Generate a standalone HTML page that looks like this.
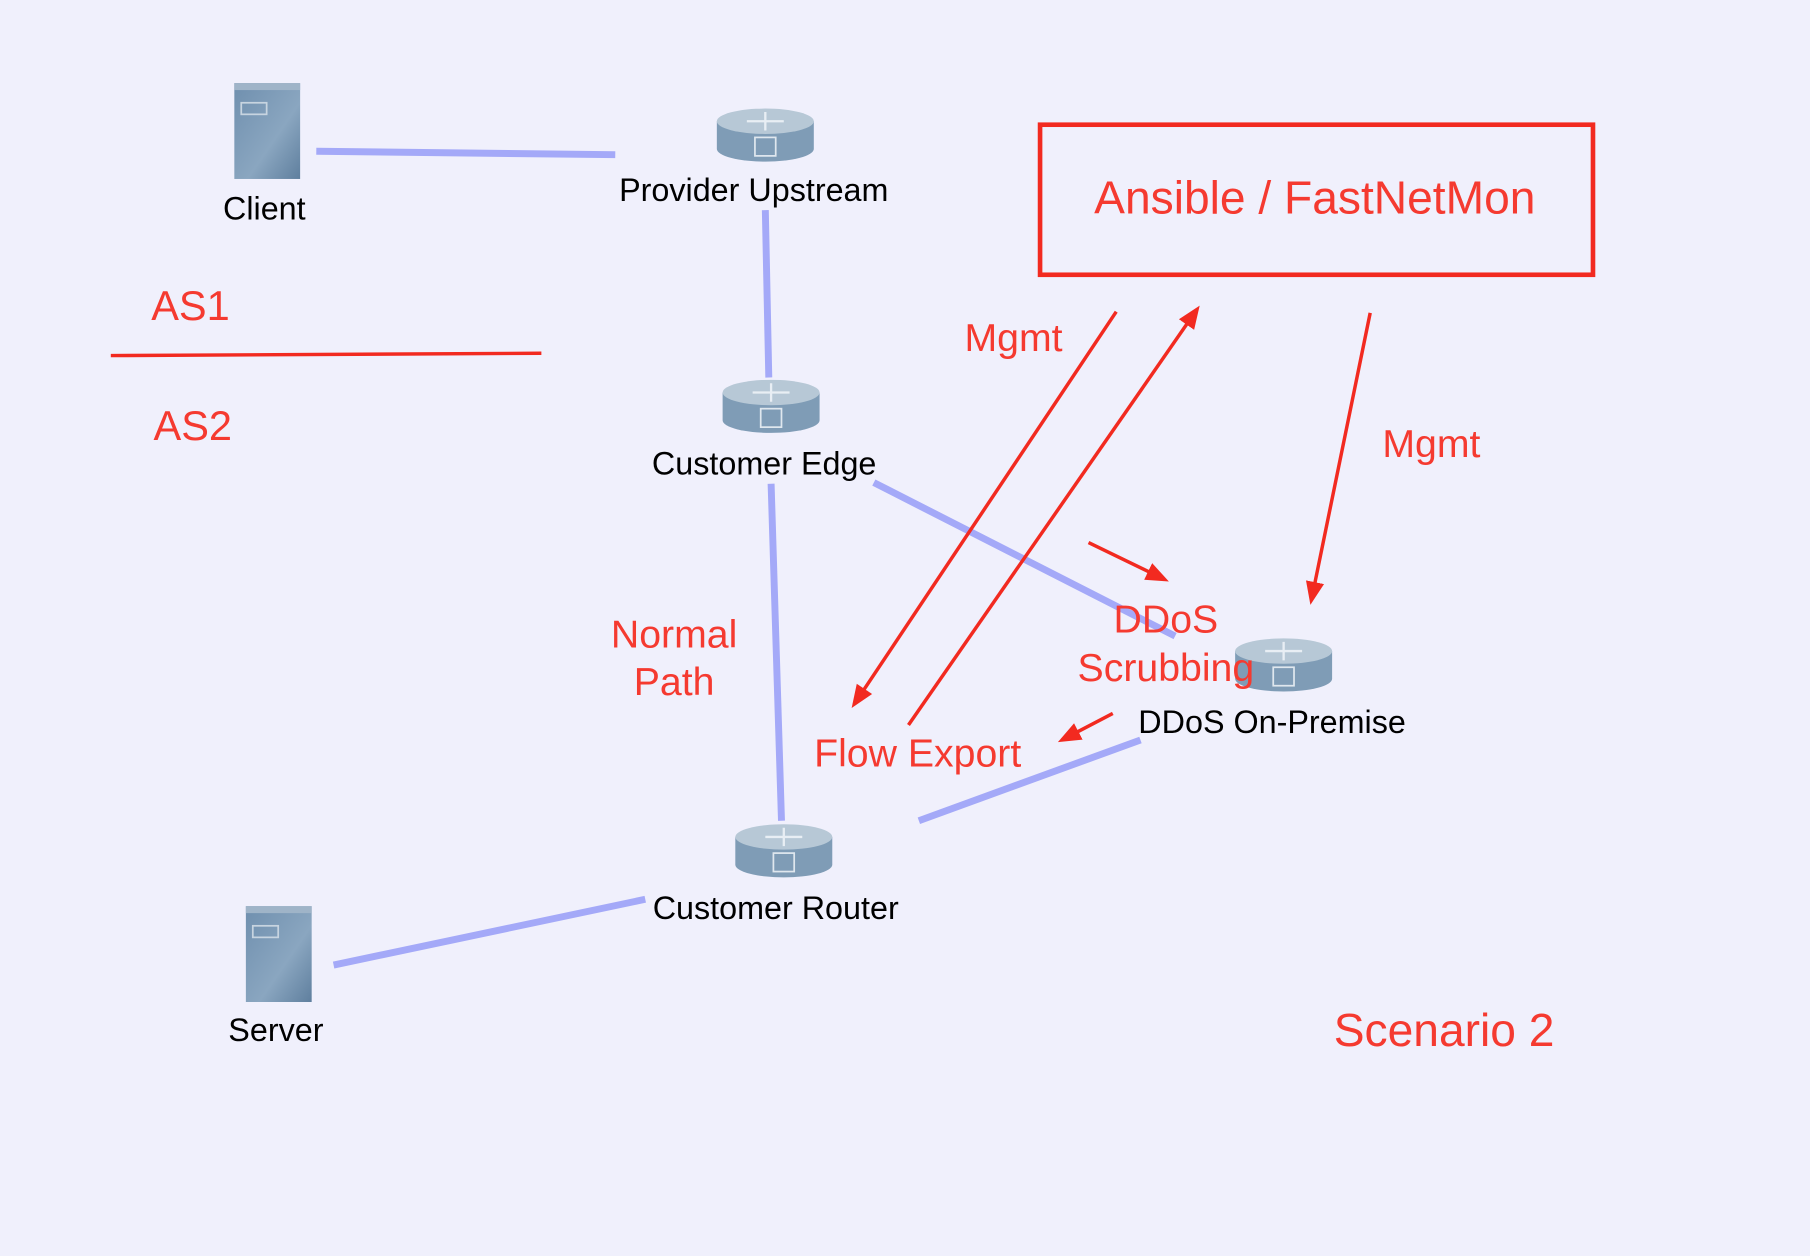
<!DOCTYPE html>
<html><head><meta charset="utf-8"><style>
html,body{margin:0;padding:0;background:#f0f0fc;}
svg{display:block;}
text{font-family:"Liberation Sans",sans-serif;}
</style></head><body>
<svg width="1810" height="1256" viewBox="0 0 1568 1088" xmlns="http://www.w3.org/2000/svg">
<defs>
<marker id="ahb" markerWidth="20" markerHeight="20" refX="16" refY="10" orient="auto" markerUnits="userSpaceOnUse" viewBox="0 0 20 20">
<path d="M0,2 L20,10 L0,18 z" fill="#f22a20"/>
</marker>
<linearGradient id="srv" x1="0" y1="0" x2="1" y2="1">
<stop offset="0" stop-color="#6f8fae"/><stop offset="0.6" stop-color="#8aa6c0"/><stop offset="1" stop-color="#5f7f9e"/>
</linearGradient>
<g id="router">
<path d="M-42,-12 L-42,12 A42,11 0 0 0 42,12 L42,-12 Z" fill="#7f9cb6"/>
<ellipse cx="0" cy="-12" rx="42" ry="11" fill="#b7c8d6"/>
<path d="M-16,-12 H16 M0,-20 V-4" stroke="#e8eef4" stroke-width="2"/>
<rect x="-9" y="2" width="18" height="16" fill="none" stroke="#dfe7ee" stroke-width="1.5"/>
</g>
<g id="server">
<rect x="0" y="0" width="57" height="83" fill="url(#srv)"/>
<rect x="0" y="0" width="57" height="6" fill="#9fb4c8"/>
<rect x="6" y="17" width="22" height="10" fill="none" stroke="#c7d4e0" stroke-width="1.5"/>
</g>
</defs>
<rect width="1568" height="1088" fill="#f0f0fc"/>
<g stroke="#a4a9f8" stroke-width="6" fill="none">
<line x1="274" y1="131" x2="533" y2="134"/>
<line x1="663" y1="182" x2="666" y2="327"/>
<line x1="668" y1="419" x2="677" y2="711"/>
<line x1="757" y1="418" x2="1018" y2="551"/>
<line x1="796" y1="711" x2="988" y2="641"/>
<line x1="289" y1="836" x2="559" y2="779"/>
</g>
<use href="#server" x="203" y="72"/>
<use href="#server" x="213" y="785"/>
<use href="#router" x="663" y="117"/>
<use href="#router" x="668" y="352"/>
<use href="#router" x="679" y="737"/>
<use href="#router" x="1112" y="576"/>
<g font-size="28" fill="#000" text-anchor="middle">
<text x="229" y="190">Client</text>
<text x="653" y="174">Provider Upstream</text>
<text x="662" y="411">Customer Edge</text>
<text x="672" y="796">Customer Router</text>
<text x="1102" y="635">DDoS On-Premise</text>
<text x="239" y="902">Server</text>
</g>
<line x1="96" y1="308" x2="469" y2="306" stroke="#f22a20" stroke-width="3"/>
<rect x="901" y="108" width="479" height="130" fill="none" stroke="#f22a20" stroke-width="4"/>
<g stroke="#f22a20" stroke-width="3" fill="none">
<line x1="967" y1="270" x2="740" y2="610" marker-end="url(#ahb)"/>
<line x1="787" y1="628" x2="1037" y2="268" marker-end="url(#ahb)"/>
<line x1="1187" y1="271" x2="1136" y2="520" marker-end="url(#ahb)"/>
<line x1="943" y1="470" x2="1009" y2="502" marker-end="url(#ahb)"/>
<line x1="964" y1="618" x2="920" y2="641" marker-end="url(#ahb)"/>
</g>
<g fill="#f53a30" text-anchor="middle">
<text x="1139" y="185" font-size="40">Ansible / FastNetMon</text>
<text x="165" y="277" font-size="36">AS1</text>
<text x="167" y="381" font-size="36">AS2</text>
<text x="878" y="304" font-size="34">Mgmt</text>
<text x="1240" y="396" font-size="34">Mgmt</text>
<text x="584" y="561" font-size="34">Normal</text>
<text x="584" y="602" font-size="34">Path</text>
<text x="1010" y="548" font-size="34">DDoS</text>
<text x="1010" y="590" font-size="34">Scrubbing</text>
<text x="795" y="664" font-size="34">Flow Export</text>
<text x="1251" y="906" font-size="40">Scenario 2</text>
</g>
</svg>
</body></html>
